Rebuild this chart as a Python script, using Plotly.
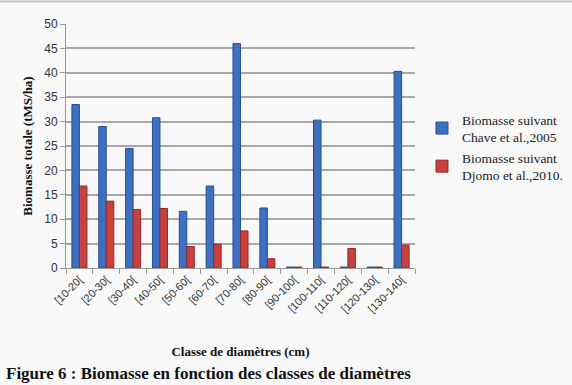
import plotly.graph_objects as go

categories = ["[10-20[", "[20-30[", "[30-40[", "[40-50[", "[50-60[", "[60-70[", "[70-80[",
              "[80-90[", "[90-100[", "[100-110[", "[110-120[", "[120-130[", "[130-140["]
chave = [33.5, 29.0, 24.5, 30.8, 11.6, 16.8, 46.0, 12.3, 0.2, 30.3, 0.2, 0.2, 40.3]
djomo = [16.8, 13.7, 12.0, 12.2, 4.4, 4.9, 7.6, 1.9, 0.2, 0.2, 4.0, 0.2, 4.7]
series_names = ["Biomasse suivant<br>Chave et al.,2005", "Biomasse suivant<br>Djomo et al.,2010."]

W, H = 572, 385
L, R, T, B = 66, 157, 24, 117
ph = H - T - B

def py(p):
    return (H - B - p) / ph

def px(p):
    return (p - L) / (W - L - R)

fig = go.Figure()
fig.add_trace(go.Bar(x=categories, y=chave, name=series_names[0],
                     marker=dict(color="#3d6fc2", line=dict(color="#2a4f8f", width=1))))
fig.add_trace(go.Bar(x=categories, y=djomo, name=series_names[1],
                     marker=dict(color="#c9413e", line=dict(color="#8f2b2a", width=1))))

serif = "Liberation Serif, Times New Roman, serif"
sans = "Liberation Sans, Arial, sans-serif"

fig.update_layout(
    width=W, height=H,
    margin=dict(l=L, r=R, t=T, b=B, autoexpand=False),
    paper_bgcolor="#f8f8f8", plot_bgcolor="#f8f8f8",
    barmode="group", bargap=0.44, bargroupgap=0.0,
    showlegend=True,
    legend=dict(x=px(422), y=py(104), xanchor="left", yanchor="top",
                font=dict(family=serif, size=13.5, color="#222"),
                bgcolor="rgba(0,0,0,0)", tracegroupgap=14,
                itemwidth=30),
    xaxis=dict(tickangle=-45, tickfont=dict(family=sans, size=11, color="#333"),
               showline=True, linecolor="#999", linewidth=1,
               ticks="outside", ticklen=5, tickcolor="#999",
               tickson="boundaries", showgrid=False,
               title=dict(text="<b>Classe de diamètres (cm)</b>",
                          font=dict(family=serif, size=13, color="#111"), standoff=33)),
    yaxis=dict(range=[0, 50], dtick=5,
               tickfont=dict(family=sans, size=12, color="#333"),
               showline=True, linecolor="#999", linewidth=1,
               ticks="outside", ticklen=5, tickcolor="#999",
               showgrid=True, gridcolor="#a8a8a8", gridwidth=1.5,
               zeroline=False,
               title=dict(text="<b>Biomasse totale (tMS/ha)</b>",
                          font=dict(family=serif, size=13, color="#111"), standoff=8)),
)

fig.add_annotation(text="<b>Figure 6 : Biomasse en fonction des classes de diamètres</b>",
                   xref="paper", yref="paper", x=px(4), y=py(385),
                   xanchor="left", yanchor="bottom", showarrow=False,
                   font=dict(family=serif, size=17, color="#111"))
fig.add_shape(type="line", xref="paper", yref="paper",
              x0=px(0), x1=px(W), y0=py(1.5), y1=py(1.5),
              line=dict(color="#c8c8c8", width=2))

fig.write_html("out.html")
